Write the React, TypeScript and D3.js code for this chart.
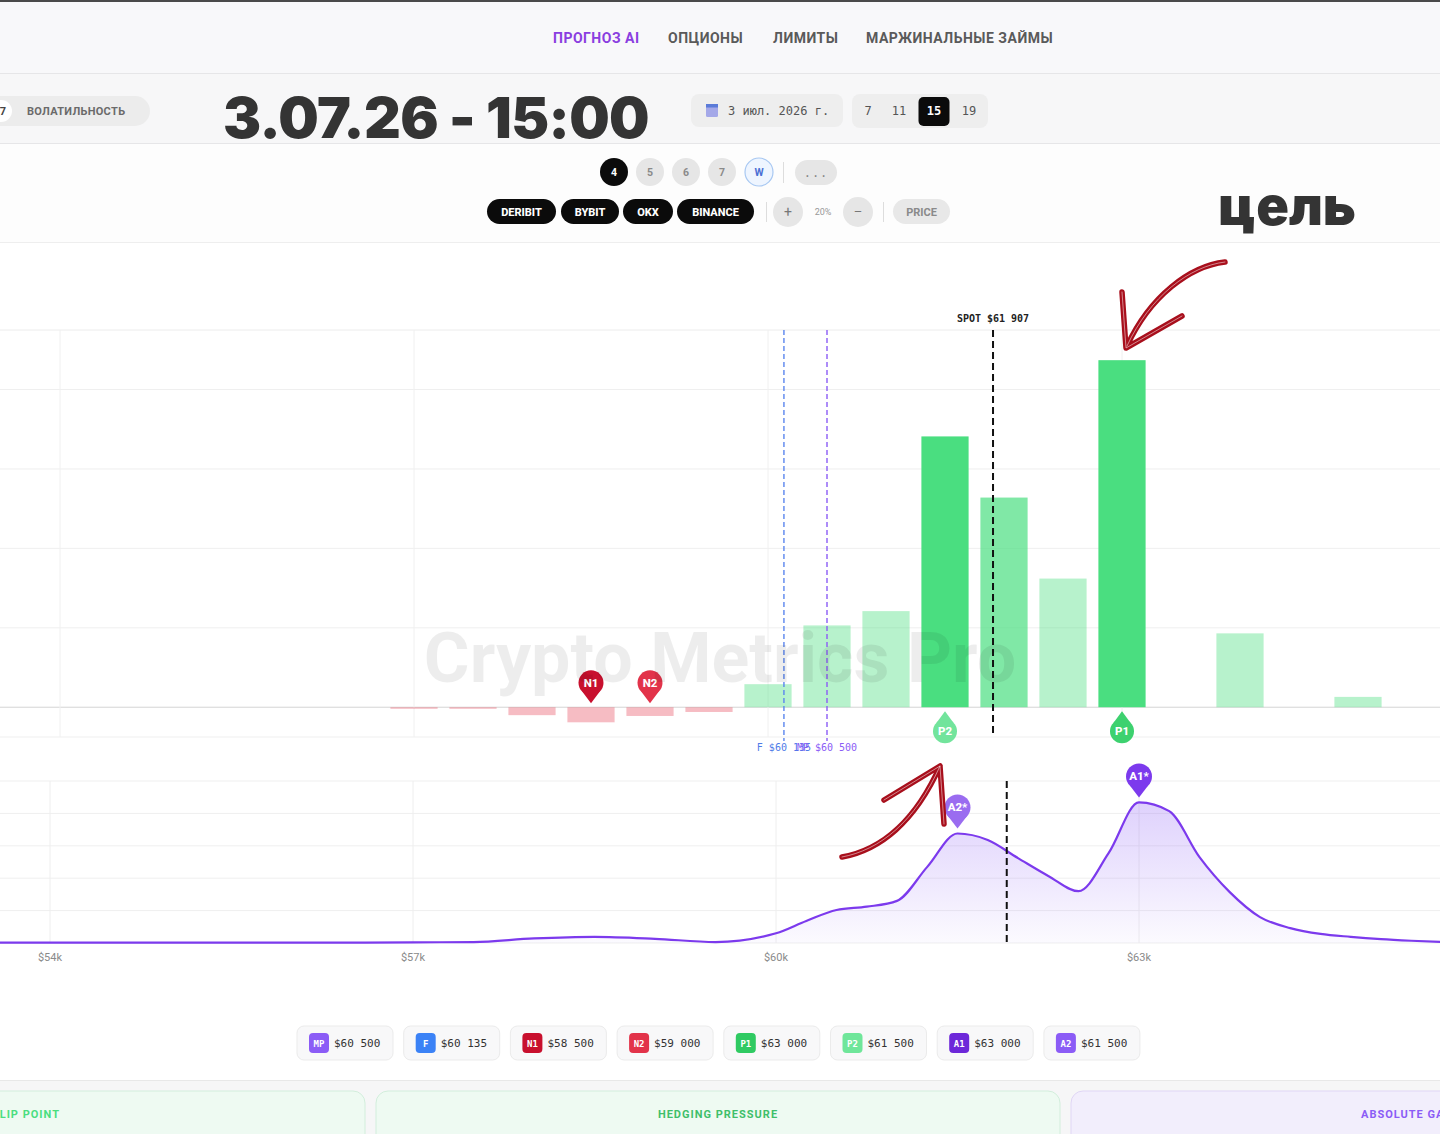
import React from "react";
import * as d3 from "d3";

// ---------- DATA ----------
const navItems = ["ПРОГНОЗ AI", "ОПЦИОНЫ", "ЛИМИТЫ", "МАРЖИНАЛЬНЫЕ ЗАЙМЫ"];
const titleText = "3.07.26 - 15:00";
const noteText = "цель";
const dateLabel = "3 июл. 2026 г.";
const hours = ["7", "11", "15", "19"];
const activeHour = "15";
const dayButtons = ["4", "5", "6", "7", "W"];
const exchanges = ["DERIBIT", "BYBIT", "OKX", "BINANCE"];

// upper chart: net gamma by strike
const strikes = [57000, 57500, 58000, 58500, 59000, 59500, 60000, 60500, 61000, 61500, 62000, 62500, 63000, 64000, 65000];
const netGamma = [-0.02, -0.02, -0.1, -0.19, -0.11, -0.06, 0.29, 1.03, 1.21, 3.41, 2.64, 1.62, 4.37, 0.93, 0.13];

// lower chart: density curve
const densityPrices = [53500, 54000, 54500, 55000, 55500, 56000, 56500, 57000, 57500, 58000, 58500, 59000, 59500, 60000, 60250, 60500, 60750, 61000, 61250, 61500, 61750, 62000, 62250, 62500, 62750, 63000, 63250, 63500, 63750, 64000, 64250, 64500, 64750, 65000, 65250, 65500];
const densityValues = [0.01, 0.01, 0.01, 0.01, 0.01, 0.01, 0.01, 0.02, 0.03, 0.14, 0.19, 0.13, 0.03, 0.3, 0.68, 1.02, 1.12, 1.3, 2.35, 3.38, 3.18, 2.62, 2.07, 1.6, 2.78, 4.34, 4.07, 2.65, 1.57, 0.8, 0.46, 0.28, 0.19, 0.12, 0.07, 0.03];

const axisTicks = [54000, 57000, 60000, 63000];
const spotPrice = 61907;
const futurePrice = 60135;
const maxPainPrice = 60500;

const legendKeys = ["MP", "F", "N1", "N2", "P1", "P2", "A1", "A2"];
const legendPrices = [60500, 60135, 58500, 59000, 63000, 61500, 63000, 61500];
const legendColors = ["#8b5cf6", "#3b82f6", "#c8102e", "#e2334a", "#2fca62", "#6fe69a", "#6d28d9", "#8b5cf6"];

const negPins = [{ key: "N1", price: 58500, color: "#c8102e" }, { key: "N2", price: 59000, color: "#e2334a" }];
const posPins = [{ key: "P1", price: 63000, color: "#3dd16f" }, { key: "P2", price: 61500, color: "#72e49c" }];
const attractorPins = [{ key: "A1*", price: 63000, color: "#7c3aed" }, { key: "A2*", price: 61500, color: "#9a6cf0" }];

const cardTitles = ["FLIP POINT", "HEDGING PRESSURE", "ABSOLUTE GAMMA"];

// ---------- HELPERS ----------
const fmt = (v: number) => "$" + d3.format(",")(v).replace(/,/g, " ");
const fmtK = (v: number) => "$" + v / 1000 + "k";
const MONO = "'DejaVu Sans Mono', 'Liberation Mono', monospace";
const SANS = "Roboto, 'Noto Sans', Arial, sans-serif";

function Pin({ x, tipY, dir, color, label, r }: any) {
  const off = r + 8;
  const cy = dir === "down" ? tipY - off : tipY + off;
  const s = dir === "down" ? 1 : -1;
  const p = `M${x - r * 0.72},${cy + s * r * 0.68} L${x},${tipY} L${x + r * 0.72},${cy + s * r * 0.68} Z`;
  return (
    <g>
      <path d={p} fill={color} />
      <circle cx={x} cy={cy} r={r} fill={color} />
      <text x={x} y={cy + 4} textAnchor="middle" fontFamily={SANS} fontWeight={800} fontSize={11.5} fill="#fff">
        {label}
      </text>
    </g>
  );
}

export default function App() {
  const W = 1440, H = 1134;

  // scales
  const xU = d3.scaleLinear().domain([54000, 63000]).range([60, 1122]);
  const yU = d3.scaleLinear().domain([-0.375, 4.75]).range([737, 330]);
  const xL = d3.scaleLinear().domain([54000, 63000]).range([50, 1139]);
  const yL = d3.scaleLinear().domain([0, 5]).range([943, 781]);

  const barW = (xU(500) - xU(0)) * 0.8;
  const maxG = d3.max(netGamma) as number;
  const sortedPos = [...netGamma].sort((a, b) => b - a);
  const barOpacity = (v: number) => {
    if (v >= sortedPos[1]) return 1;
    if (v / maxG > 0.5) return 0.7;
    return 0.4;
  };

  const pts = densityPrices.map((p, i) => [p, densityValues[i]] as [number, number]);
  const line = d3.line<[number, number]>().x(d => xL(d[0])).y(d => yL(d[1])).curve(d3.curveMonotoneX);
  const area = d3.area<[number, number]>().x(d => xL(d[0])).y0(yL(0)).y1(d => yL(d[1])).curve(d3.curveMonotoneX);
  const densAt = (p: number) => densityValues[densityPrices.indexOf(p)];

  const gridU = [0, 1, 2, 3, 4];
  const gridL = [0, 1, 2, 3, 4, 5];

  // layout
  const navX = [553, 668, 773, 866];
  const exX = [487, 561, 623, 677];
  const exW = [69, 58, 50, 77];
  const dayX = [614, 650, 686, 722, 759];
  const hourX = [868, 899, 934, 969];
  const chipW = 96, chipGap = 10.7;
  const chipStart = 297;

  return (
    <svg width={W} height={H} style={{ position: "absolute", left: 0, top: 0, display: "block" }} fontFamily={SANS}>
      <defs>
        <linearGradient id="areaGrad" x1="0" y1="0" x2="0" y2="1">
          <stop offset="0%" stopColor="#8b5cf6" stopOpacity={0.28} />
          <stop offset="100%" stopColor="#8b5cf6" stopOpacity={0.03} />
        </linearGradient>
        <clipPath id="plotClip">
          <rect x={0} y={760} width={W} height={200} />
        </clipPath>
      </defs>

      {/* backgrounds */}
      <rect x={0} y={0} width={W} height={H} fill="#ffffff" />
      <rect x={0} y={0} width={W} height={73} fill="#f8f8fa" />
      <rect x={0} y={0} width={W} height={2} fill="#4a4a4a" />
      <rect x={0} y={73} width={W} height={70} fill="#f7f7f8" />
      <rect x={0} y={143} width={W} height={99} fill="#fdfdfd" />
      <line x1={0} x2={W} y1={73.5} y2={73.5} stroke="#e6e6e8" />
      <line x1={0} x2={W} y1={143.5} y2={143.5} stroke="#e6e6e8" />
      <line x1={0} x2={W} y1={242.5} y2={242.5} stroke="#eeeeee" />

      {/* nav */}
      {navItems.map((t, i) => (
        <text key={t} x={navX[i]} y={43} fontSize={14} fontWeight={700} letterSpacing={0.5}
          fill={i === 0 ? "#8a3ee0" : "#5a5a5a"}>{t}</text>
      ))}

      {/* toolbar left pill */}
      <rect x={-20} y={96} width={170} height={30} rx={15} fill="#ececec" />
      <circle cx={1} cy={111} r={11} fill="#ffffff" />
      <text x={3} y={115} fontSize={11} fontWeight={700} fill="#444" textAnchor="middle">7</text>
      <text x={27} y={115} fontSize={11} fontWeight={700} fill="#6a6a6a" letterSpacing={0.3}>ВОЛАТИЛЬНОСТЬ</text>

      {/* title */}
      <text x={223} y={138} fontSize={57} fontWeight={900} fill="#343434" fontFamily="Inter, Lato, sans-serif" letterSpacing={-0.6}>{titleText}</text>

      {/* date pill */}
      <rect x={691} y={94} width={152} height={33} rx={8} fill="#eeeeee" />
      <rect x={706} y={104} width={12} height={13} rx={1.5} fill="#a4a8e8" />
      <rect x={706} y={104} width={12} height={3.5} fill="#5b7bd8" />
      <text x={728} y={115} fontSize={12} fill="#555" fontFamily={MONO}>{dateLabel}</text>

      {/* hours */}
      <rect x={852} y={94} width={136} height={34} rx={8} fill="#eeeeee" />
      {hours.map((h, i) => (
        <g key={h}>
          {h === activeHour && <rect x={hourX[i] - 15.5} y={97} width={31} height={29} rx={5} fill="#0b0b0b" />}
          <text x={hourX[i]} y={115} fontSize={12} textAnchor="middle" fontFamily={MONO}
            fontWeight={h === activeHour ? 700 : 400} fill={h === activeHour ? "#ffffff" : "#555"}>{h}</text>
        </g>
      ))}

      {/* day buttons */}
      {dayButtons.map((d, i) => {
        const active = i === 0;
        const w = d === "W";
        return (
          <g key={d}>
            <circle cx={dayX[i]} cy={172} r={14} fill={active ? "#0b0b0b" : w ? "#eef5ff" : "#e6e6e6"}
              stroke={w ? "#a8c8f2" : "none"} strokeWidth={1.2} />
            <text x={dayX[i]} y={176} textAnchor="middle" fontSize={10.5} fontWeight={700}
              fill={active ? "#fff" : w ? "#4a6fd4" : "#8a8a8a"}>{d}</text>
          </g>
        );
      })}
      <line x1={783.5} x2={783.5} y1={162} y2={183} stroke="#dddddd" />
      <rect x={795} y={160} width={42} height={25} rx={12.5} fill="#e6e6e6" />
      <text x={816} y={177} textAnchor="middle" fontSize={12} fill="#888" fontFamily={MONO} letterSpacing={1}>...</text>

      {/* exchanges */}
      {exchanges.map((e, i) => (
        <g key={e}>
          <rect x={exX[i]} y={199} width={exW[i]} height={25} rx={12.5} fill="#0b0b0b" />
          <text x={exX[i] + exW[i] / 2} y={215.5} textAnchor="middle" fontSize={11} fontWeight={800} fill="#fff">{e}</text>
        </g>
      ))}
      <line x1={766.5} x2={766.5} y1={202} y2={222} stroke="#dddddd" />
      <circle cx={788} cy={212} r={15} fill="#e6e6e6" />
      <text x={788} y={217} textAnchor="middle" fontSize={14} fill="#777">+</text>
      <text x={823} y={215} textAnchor="middle" fontSize={9} fill="#999">20%</text>
      <circle cx={858} cy={212} r={15} fill="#e6e6e6" />
      <text x={858} y={216} textAnchor="middle" fontSize={13} fill="#777">–</text>
      <line x1={883.5} x2={883.5} y1={202} y2={222} stroke="#dddddd" />
      <rect x={893} y={199} width={57} height={25} rx={12.5} fill="#e8e8e8" />
      <text x={921.5} y={215.5} textAnchor="middle" fontSize={11} fontWeight={700} fill="#8a8a8a">PRICE</text>

      {/* note text */}
      <text x={1218} y={225} fontSize={54} fontWeight={900} fill="#343434" fontFamily="Inter, Lato, sans-serif">{noteText}</text>

      {/* ---------- upper chart ---------- */}
      <line x1={0} x2={W} y1={yU(4.75)} y2={yU(4.75)} stroke="#ececec" />
      {gridU.map(g => (
        <line key={g} x1={0} x2={W} y1={yU(g)} y2={yU(g)} stroke={g === 0 ? "#d4d4d4" : "#efefef"} />
      ))}
      <line x1={0} x2={W} y1={yU(-0.375)} y2={yU(-0.375)} stroke="#efefef" />
      {axisTicks.map(t => (
        <line key={t} x1={xU(t)} x2={xU(t)} y1={yU(4.75)} y2={yU(-0.375)} stroke="#f0f0f0" />
      ))}

      {strikes.map((s, i) => {
        const v = netGamma[i];
        const y0 = yU(0), y1 = yU(v);
        const pos = v >= 0;
        return (
          <rect key={s} x={xU(s) - barW / 2} width={barW}
            y={Math.min(y0, y1)} height={Math.max(1.5, Math.abs(y1 - y0))}
            fill={pos ? "#4ade80" : "#e8576a"} fillOpacity={pos ? barOpacity(v) : 0.4} />
        );
      })}

      {/* reference lines upper */}
      <line x1={xU(futurePrice)} x2={xU(futurePrice)} y1={yU(4.75)} y2={741} stroke="#5b86ee" strokeWidth={1.4} strokeDasharray="5,3" />
      <line x1={xU(maxPainPrice)} x2={xU(maxPainPrice)} y1={yU(4.75)} y2={741} stroke="#8b5cf6" strokeWidth={1.4} strokeDasharray="5,3" />
      <line x1={xU(spotPrice)} x2={xU(spotPrice)} y1={yU(4.75)} y2={yU(-0.375)} stroke="#111" strokeWidth={2} strokeDasharray="7,4" />
      <text x={xU(spotPrice)} y={322} textAnchor="middle" fontSize={10} fontWeight={700} fontFamily={MONO} fill="#222">{"SPOT " + fmt(spotPrice)}</text>
      <text x={xU(futurePrice)} y={751} textAnchor="middle" fontSize={10} fontFamily={MONO} fill="#4f7be8">{"F " + fmt(futurePrice)}</text>
      <text x={xU(maxPainPrice)} y={751} textAnchor="middle" fontSize={10} fontFamily={MONO} fill="#8b5cf6">{"MP " + fmt(maxPainPrice)}</text>

      {/* pins upper */}
      {negPins.map(p => (
        <Pin key={p.key} x={xU(p.price)} tipY={yU(0) - 4} dir="down" color={p.color} label={p.key} r={12.5} />
      ))}
      {posPins.map(p => (
        <Pin key={p.key} x={xU(p.price)} tipY={yU(0) + 4} dir="up" color={p.color} label={p.key} r={12} />
      ))}

      {/* watermark */}
      <text x={720} y={682} textAnchor="middle" fontSize={70} fontWeight={700} fill="#000" fillOpacity={0.07}>Crypto Metrics Pro</text>

      {/* ---------- lower chart ---------- */}
      {gridL.map(g => (
        <line key={g} x1={0} x2={W} y1={yL(g)} y2={yL(g)} stroke="#efefef" />
      ))}
      {axisTicks.map(t => (
        <line key={t} x1={xL(t)} x2={xL(t)} y1={yL(5)} y2={yL(0)} stroke="#eeeeee" />
      ))}
      <g clipPath="url(#plotClip)">
        <path d={area(pts) as string} fill="url(#areaGrad)" />
        <path d={line(pts) as string} fill="none" stroke="#7c3aed" strokeWidth={2.2} />
      </g>
      <line x1={xL(spotPrice)} x2={xL(spotPrice)} y1={yL(5)} y2={yL(0)} stroke="#111" strokeWidth={2} strokeDasharray="7,4" />
      {axisTicks.map(t => (
        <text key={t} x={xL(t)} y={961} textAnchor="middle" fontSize={11} fill="#8a8a8a">{fmtK(t)}</text>
      ))}
      {attractorPins.map(p => (
        <Pin key={p.key} x={xL(p.price)} tipY={yL(densAt(p.price)) - 5} dir="down" color={p.color} label={p.key} r={13} />
      ))}

      {/* annotation arrows */}
      <g fill="none" strokeLinecap="round" strokeLinejoin="round">
        <path d="M1225,262 C1190,266 1150,296 1127,346 M1122,292 L1126,348 L1182,316" stroke="#a80f1c" strokeWidth={5.5} />
        <path d="M1225,262 C1190,266 1150,296 1127,346 M1122,292 L1126,348 L1182,316" stroke="#ffffff" strokeOpacity={0.5} strokeWidth={1} />
        <path d="M842,857 C880,850 915,822 940,766 M884,800 L940,766 L944,824" stroke="#a80f1c" strokeWidth={5.5} />
        <path d="M842,857 C880,850 915,822 940,766 M884,800 L940,766 L944,824" stroke="#ffffff" strokeOpacity={0.5} strokeWidth={1} />
      </g>

      {/* legend chips */}
      {legendKeys.map((k, i) => {
        const x = chipStart + i * (chipW + chipGap);
        return (
          <g key={k}>
            <rect x={x} y={1026} width={chipW} height={34} rx={7} fill="#f8f8f9" stroke="#ebebeb" />
            <rect x={x + 12} y={1033} width={20} height={20} rx={4} fill={legendColors[i]} />
            <text x={x + 22} y={1047} textAnchor="middle" fontSize={9} fontWeight={700} fill="#fff" fontFamily={MONO}>{k}</text>
            <text x={x + 37} y={1047} fontSize={11} fill="#333" fontFamily={MONO}>{fmt(legendPrices[i])}</text>
          </g>
        );
      })}

      {/* bottom cards */}
      <rect x={0} y={1080} width={W} height={54} fill="#f6f6f7" />
      <line x1={0} x2={W} y1={1080.5} y2={1080.5} stroke="#e8e8e8" />
      <rect x={-300} y={1091} width={665} height={80} rx={12} fill="#eefaf2" stroke="#d2eedc" />
      <rect x={376} y={1091} width={684} height={80} rx={12} fill="#eefaf2" stroke="#d2eedc" />
      <rect x={1071} y={1091} width={500} height={80} rx={12} fill="#f2eefc" stroke="#e0d6f5" />
      <text x={60} y={1118} textAnchor="end" fontSize={11} fontWeight={700} letterSpacing={1} fill="#4ade80">{cardTitles[0]}</text>
      <text x={718} y={1118} textAnchor="middle" fontSize={11} fontWeight={700} letterSpacing={1} fill="#3fbf6a">{cardTitles[1]}</text>
      <text x={1361} y={1118} fontSize={11} fontWeight={700} letterSpacing={1} fill="#8b5cf6">{cardTitles[2]}</text>
    </svg>
  );
}
